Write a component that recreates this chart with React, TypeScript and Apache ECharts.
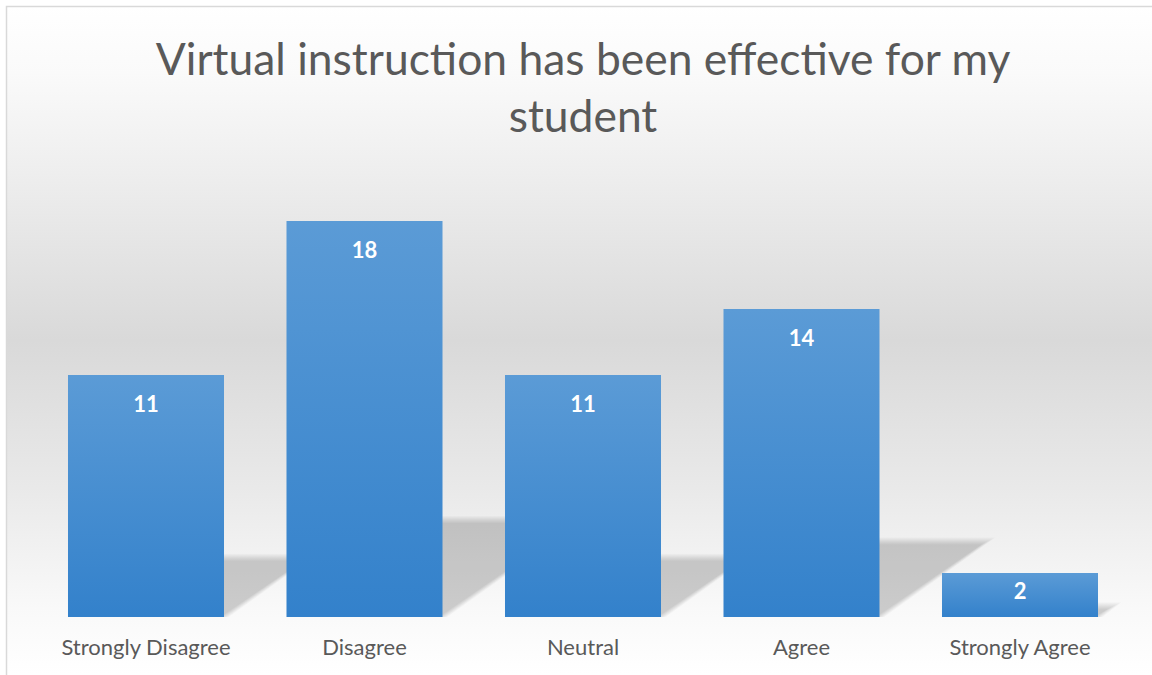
import React, { useEffect, useRef } from "react";
import * as echarts from "echarts";

const categories = ["Strongly Disagree", "Disagree", "Neutral", "Agree", "Strongly Agree"];
const values = [11, 18, 11, 14, 2];
const titleLines = ["Virtual instruction has been effective for my", "student"];

export default function App() {
  const ref = useRef<HTMLDivElement>(null);
  useEffect(() => {
    if (!ref.current) return;
    const chart = echarts.init(ref.current, null, { renderer: "svg" });
    const font = "Lato, Carlito, 'Noto Sans', sans-serif";
    const barData = values.map((v) =>
      v < 4 ? { value: v, label: { distance: 6 } } : { value: v }
    );
    chart.setOption({
      animation: false,
      graphic: [
        {
          type: "rect",
          z: -10,
          silent: true,
          shape: { x: 6.5, y: 6.5, width: 1160, height: 700 },
          style: {
            stroke: "#d9d9d9",
            lineWidth: 1.5,
            fill: {
              type: "linear",
              x: 0, y: 6, x2: 0, y2: 675,
              global: true,
              colorStops: [
                { offset: 0, color: "#ffffff" },
                { offset: 0.1, color: "#fafafa" },
                { offset: 0.25, color: "#eeeeee" },
                { offset: 0.5, color: "#d9d9d9" },
                { offset: 0.72, color: "#e9e9e9" },
                { offset: 0.9, color: "#f9f9f9" },
                { offset: 1, color: "#ffffff" },
              ],
            },
          },
        },
      ],
      title: {
        text: titleLines.join("\n"),
        left: 578,
        textAlign: "center",
        top: 24,
        textStyle: {
          fontFamily: font,
          fontSize: 44.4,
          fontWeight: "normal",
          color: "#595959",
          lineHeight: 57,
        },
      },
      grid: { left: 36.75, right: 22.75, top: 177, bottom: 58, containLabel: false },
      xAxis: {
        type: "category",
        data: categories,
        axisLine: { show: false },
        axisTick: { show: false },
        axisLabel: { color: "#595959", fontSize: 22, fontFamily: font, margin: 18, interval: 0 },
      },
      yAxis: {
        type: "value",
        min: 0,
        max: 20,
        show: false,
        splitLine: { show: false },
      },
      series: [
        {
          type: "custom",
          z: 1,
          silent: true,
          data: values.map((v, i) => [i, v]),
          renderItem: (params: any, api: any) => {
            const idx = api.value(0);
            const v = api.value(1);
            const top = api.coord([idx, v]);
            const base = api.coord([idx, 0]);
            const band = api.size([1, 0])[0];
            const barW = band * 0.714;
            const xL = base[0] - barW / 2;
            const xR = base[0] + barW / 2;
            const y0 = base[1];
            const h = (y0 - top[1]) * 0.245;
            const dx = h * 1.43;
            const children: any[] = [];
            const layers = 8;
            for (let k = 0; k < layers; k++) {
              const e = 8 - k * 2;
              children.push({
                type: "polygon",
                shape: {
                  points: [
                    [xL, y0],
                    [xR + e * 0.6, y0],
                    [xR + dx + e, y0 - h - e * 0.5],
                    [xL + dx, y0 - h - e * 0.5],
                  ],
                },
                style: { fill: "rgba(0,0,0,0.024)" },
              });
            }
            return { type: "group", children };
          },
        },
        {
          type: "bar",
          z: 2,
          data: barData,
          barCategoryGap: "28.6%",
          itemStyle: {
            color: {
              type: "linear",
              x: 0, y: 0, x2: 0, y2: 1,
              colorStops: [
                { offset: 0, color: "#5b9bd6" },
                { offset: 1, color: "#3381cb" },
              ],
            },
          },
          label: {
            show: true,
            position: "insideTop",
            distance: 17,
            color: "#ffffff",
            fontWeight: "bold",
            fontSize: 22,
            fontFamily: font,
          },
        },
      ],
    });
    return () => chart.dispose();
  }, []);
  return (
    <div
      ref={ref}
      style={{ position: "fixed", left: 0, top: 0, width: 1152, height: 675, background: "#ffffff" }}
    />
  );
}
